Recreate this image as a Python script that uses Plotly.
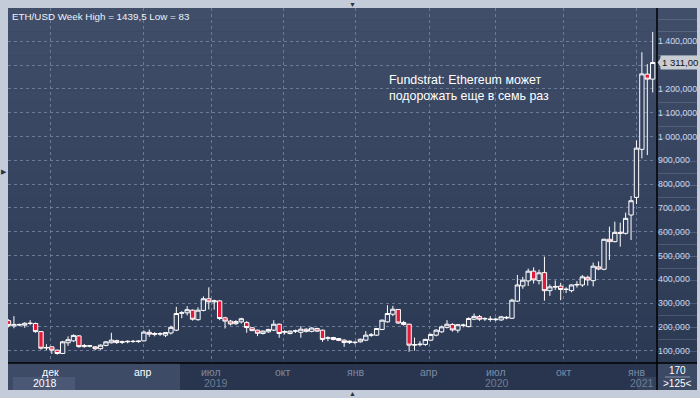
import plotly.graph_objects as go
import pandas as pd

# ---- data (weekly ETH/USD, oldest first) ----
start_week = "2018-10-08"
opens = [226, 204, 207, 207, 214, 214, 180, 111, 116, 102, 88, 133, 141, 162,
         117, 121, 116, 108, 122, 133, 142, 135, 137, 138, 138, 141,
         177, 168, 172, 165, 174, 186, 257, 259, 270, 230, 269, 318, 305, 309,
         238, 224, 213, 221, 218, 196, 186, 172, 179, 186, 211, 177, 172, 182,
         177, 190, 181, 193, 186, 152, 155, 151, 144, 134, 134, 137, 144, 165,
         165, 189, 221, 253, 273, 218, 211, 123, 125, 126, 144, 165, 179, 198,
         210, 186, 207, 201, 232, 243, 233, 233, 230, 229, 240, 236, 308, 372,
         393, 434, 394, 428, 352, 367, 371, 357, 352, 376, 376, 408, 394, 452,
         442, 568, 558, 597, 593, 670, 744, 946, 1262, 1241]
highs = [232, 245, 213, 219, 228, 218, 182, 127, 118, 104, 141, 160, 168, 165,
         128, 124, 119, 126, 140, 175, 146, 142, 143, 145, 143, 185,
         189, 178, 177, 178, 205, 284, 266, 287, 273, 282, 328, 366, 314, 312,
         242, 229, 228, 238, 224, 199, 188, 185, 192, 228, 214, 186, 184, 188,
         203, 194, 198, 196, 188, 160, 158, 153, 148, 142, 139, 150, 182, 174,
         195, 230, 291, 288, 275, 225, 213, 155, 140, 150, 172, 190, 205, 228,
         215, 212, 213, 240, 256, 250, 240, 245, 238, 246, 245, 318, 418, 410,
         445, 450, 440, 495, 378, 395, 385, 366, 378, 392, 418, 415, 470, 475,
         570, 621, 642, 638, 680, 750, 983, 1354, 1304, 1439.5]
lows = [198, 194, 203, 196, 207, 175, 104, 102, 86, 83, 86, 120, 137, 112,
        112, 114, 102, 104, 118, 130, 128, 128, 131, 133, 133, 139,
        158, 160, 162, 157, 168, 182, 236, 248, 226, 226, 265, 273, 272, 228,
        193, 206, 208, 214, 175, 182, 161, 168, 175, 182, 154, 168, 168, 174,
        154, 176, 177, 178, 137, 140, 143, 140, 116, 128, 127, 134, 140, 158,
        162, 186, 218, 245, 213, 205, 95, 100, 118, 120, 140, 160, 175, 193,
        180, 175, 198, 198, 228, 225, 225, 222, 224, 225, 232, 233, 305, 360,
        372, 382, 378, 310, 330, 355, 312, 342, 345, 365, 368, 373, 370, 438,
        438, 481, 555, 537, 588, 565, 716, 908, 922, 1185]
closes = [206, 210, 210, 215, 215, 180, 110, 113, 102, 88, 137, 146, 164, 117,
          121, 119, 108, 123, 137, 144, 134, 137, 139, 139, 140, 178,
          169, 172, 170, 176, 198, 256, 259, 272, 232, 270, 318, 305, 309, 235,
          224, 212, 222, 234, 197, 184, 173, 182, 189, 211, 172, 180, 182, 183,
          190, 181, 195, 182, 147, 154, 147, 143, 134, 140, 135, 148, 165, 166,
          193, 228, 256, 274, 216, 210, 123, 125, 127, 147, 168, 186, 200, 211,
          187, 209, 207, 235, 244, 232, 235, 231, 232, 242, 238, 312, 376, 396,
          434, 397, 427, 352, 368, 369, 357, 358, 376, 378, 410, 397, 455, 443,
          568, 558, 597, 593, 656, 730, 951, 1263, 1241, 1311]

dates = pd.date_range(start_week, periods=len(opens), freq="7D")

y_ticks = [100, 200, 300, 400, 500, 600, 700, 800, 900, 1000, 1100, 1200, 1300, 1400]
# the 1300 label is hidden under the current-price marker in the original
y_tick_text = ["100,000", "200,000", "300,000", "400,000", "500,000", "600,000",
               "700,000", "800,000", "900,000", "1 000,000", "1 100,000",
               "1 200,000", "", "1 400,000"]

month_ticks = ["2018-12-01", "2019-03-31", "2019-06-27", "2019-09-28", "2019-12-31",
               "2020-04-04", "2020-06-29", "2020-09-25", "2020-12-28"]
month_labels = ["дек", "апр", "июл", "окт", "янв", "апр", "июл", "окт", "янв"]
year_labels = ["2018", "2019", "2020", "2021"]

title_text = "ETH/USD Week High = 1439,5 Low = 83"
news_lines = ["Fundstrat: Ethereum может", "подорожать еще в семь раз"]
price_text = "1 311,00"

# ---- geometry helpers (pixels -> paper) ----
W, H = 700, 398
L, R, T, B = 8, 43, 8, 35
PW, PH = W - L - R, H - T - B
Y0, Y1 = 48, 1540
FONT = "Liberation Sans, Arial, sans-serif"


def px(x):
    return (x - L) / PW


def py(y):
    return (H - B - y) / PH


fig = go.Figure()

fig.add_trace(go.Candlestick(
    x=dates, open=opens, high=highs, low=lows, close=closes,
    increasing=dict(line=dict(color="#ffffff", width=1), fillcolor="#344260"),
    decreasing=dict(line=dict(color="#ffffff", width=1), fillcolor="#e3193b"),
    whiskerwidth=0, hoverinfo="skip", showlegend=False,
))

shapes = []
# gradient background (plot + right axis panel)
top_c = (0x40, 0x4e, 0x6a)
bot_c = (0x2c, 0x39, 0x53)
n = 30
for i in range(n):
    f = (i + 0.5) / n
    c = tuple(int(round(top_c[k] * (1 - f) + bot_c[k] * f)) for k in range(3))
    shapes.append(dict(type="rect", xref="paper", yref="paper",
                       x0=0, x1=px(697), y0=1 - (i + 1) / n, y1=1 - i / n,
                       fillcolor="rgb(%d,%d,%d)" % c, line=dict(width=0), layer="below"))
# bottom time band
shapes.append(dict(type="rect", xref="paper", yref="paper", x0=0, x1=px(697),
                   y0=py(390), y1=0, fillcolor="#29354e", line=dict(width=0), layer="below"))
shapes.append(dict(type="rect", xref="paper", yref="paper", x0=0, x1=px(180),
                   y0=py(390), y1=0, fillcolor="#3d4b67", line=dict(width=0), layer="below"))
shapes.append(dict(type="rect", xref="paper", yref="paper", x0=px(13), x1=px(75),
                   y0=py(390), y1=py(377), fillcolor="#4a5875", line=dict(width=0), layer="below"))
shapes.append(dict(type="rect", xref="paper", yref="paper", x0=px(637), x1=px(657),
                   y0=py(390), y1=py(377), fillcolor="#34425c", line=dict(width=0), layer="below"))
shapes.append(dict(type="rect", xref="paper", yref="paper", x0=px(657), x1=px(697),
                   y0=py(390), y1=0, fillcolor="#3b4964", line=dict(width=0), layer="below"))
shapes.append(dict(type="line", xref="paper", yref="paper", x0=px(665), x1=px(690),
                   y0=py(377), y1=py(377), line=dict(color="#8a96aa", width=1)))
# black separators
shapes.append(dict(type="line", xref="paper", yref="paper", x0=1, x1=1,
                   y0=py(390), y1=1, line=dict(color="#000000", width=1.5)))
shapes.append(dict(type="line", xref="paper", yref="paper", x0=0, x1=px(697),
                   y0=0, y1=0, line=dict(color="#000000", width=1.5)))
# current price pointer
last = closes[-1]
hh = 5 / (PH / (Y1 - Y0))
shapes.append(dict(type="path", xref="paper", yref="y",
                   path="M %f,%f L %f,%f L %f,%f Z" % (px(657.5), last, px(661), last + hh, px(661), last - hh),
                   fillcolor="#c8cdd4", line=dict(width=0), layer="above"))

annotations = [
    dict(text=title_text, xref="paper", yref="paper", x=px(10), y=py(8.5),
         xanchor="left", yanchor="top", showarrow=False,
         font=dict(family=FONT, size=9.8, color="#eef2f8")),
    dict(text=price_text, xref="paper", yref="y", x=px(660.5), y=last,
         xanchor="left", yanchor="middle", showarrow=False, bgcolor="#c8cdd4",
         borderpad=1, font=dict(family=FONT, size=9.5, color="#111111")),
    dict(text="170", xref="paper", yref="paper", x=px(677), y=py(370),
         xanchor="center", yanchor="middle", showarrow=False,
         font=dict(family=FONT, size=10, color="#ffffff")),
    dict(text=">125<", xref="paper", yref="paper", x=px(677), y=py(383),
         xanchor="center", yanchor="middle", showarrow=False,
         font=dict(family=FONT, size=10, color="#ffffff")),
    dict(text="▼", xref="paper", yref="paper", x=px(352), y=py(4),
         xanchor="center", yanchor="middle", showarrow=False,
         font=dict(size=7, color="#2b3140")),
    dict(text="▲", xref="paper", yref="paper", x=px(352), y=py(393.5),
         xanchor="center", yanchor="middle", showarrow=False,
         font=dict(size=7, color="#2b3140")),
    dict(text="▶", xref="paper", yref="paper", x=px(3.5), y=py(171),
         xanchor="center", yanchor="middle", showarrow=False,
         font=dict(size=7, color="#2b3140")),
]
for line, yc in zip(news_lines, (80.5, 95.5)):
    annotations.append(dict(text=line, xref="paper", yref="paper", x=px(387), y=py(yc),
                            xanchor="left", yanchor="middle", showarrow=False,
                            font=dict(family=FONT, size=12.4, color="#ffffff")))
for i, (d, lab) in enumerate(zip(month_ticks, month_labels)):
    col = "#ffffff" if i < 2 else "#7c8aa2"
    annotations.append(dict(text=lab, x=d, xref="x", yref="paper", y=py(372),
                            xanchor="center", yanchor="middle", showarrow=False,
                            font=dict(family=FONT, size=10.5, color=col)))
year_pos = [(px(45), "center", "#ffffff"), (px(216), "center", "#6f7d96"),
            (px(497), "center", "#6f7d96"), (px(656), "right", "#6f7d96")]
for lab, (xp, anc, col) in zip(year_labels, year_pos):
    annotations.append(dict(text=lab, x=xp, xref="paper", yref="paper", y=py(383),
                            xanchor=anc, yanchor="middle", showarrow=False,
                            font=dict(family=FONT, size=10.5, color=col)))

fig.update_layout(
    width=W, height=H,
    margin=dict(l=L, r=R, t=T, b=B, pad=0, autoexpand=False),
    paper_bgcolor="#c3ccd8",
    plot_bgcolor="#34425e",
    shapes=shapes,
    annotations=annotations,
    boxgap=0.2, boxgroupgap=0.0,
    showlegend=False,
    xaxis=dict(
        type="date", automargin=False,
        range=["2018-10-07 08:00", "2021-01-23 13:00"],
        rangeslider=dict(visible=False),
        tickvals=month_ticks, showticklabels=False,
        showgrid=True, gridcolor="#6a7a97", griddash="3px,3px", gridwidth=1,
        zeroline=False, showline=False, ticks="",
    ),
    yaxis=dict(
        side="right", range=[Y0, Y1], automargin=False,
        tickvals=y_ticks, ticktext=y_tick_text,
        showgrid=True, gridcolor="#6a7a97", griddash="3px,3px", gridwidth=1,
        zeroline=False, showline=False, ticks="",
        tickfont=dict(family=FONT, size=8.8, color="#c9d6ec"),
    ),
)

fig.write_html(
    "out.html",
    config={"displayModeBar": False},
    post_script="document.body.style.margin='0px';document.body.style.overflow='hidden';",
)
